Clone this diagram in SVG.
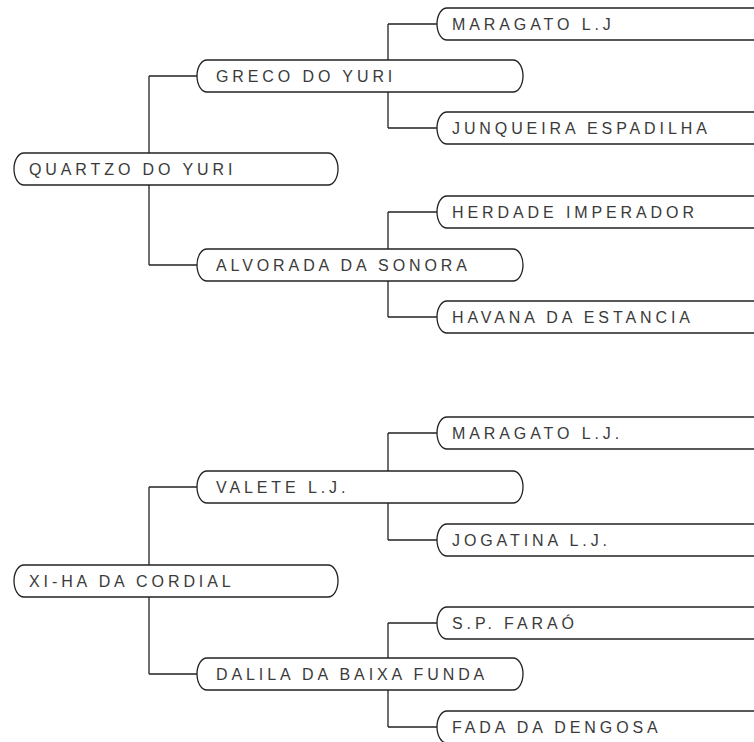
<svg xmlns="http://www.w3.org/2000/svg" width="754" height="742" viewBox="0 0 754 742">
<style>
.c{fill:none;stroke:#222;stroke-width:1.3}
.b{fill:#fff;stroke:#222;stroke-width:1.3}
.t{font-family:"Liberation Sans",Arial,sans-serif;font-size:16px;letter-spacing:3.9px;fill:#3a3a3a}
</style>
<rect width="754" height="742" fill="#fff"/>
<g id="connectors">
<path class="c" d="M149,76V265M149,76H197M149,265H197"/>
<path class="c" d="M388,24V128M388,24H437M388,128H437"/>
<path class="c" d="M388,212V317M388,212H437M388,317H437"/>
<path class="c" d="M149,487V674M149,487H197M149,674H197"/>
<path class="c" d="M388,433V540M388,433H437M388,540H437"/>
<path class="c" d="M388,623V727M388,623H437M388,727H437"/>
</g>
<g id="n1"><rect class="b" x="14" y="153" width="324" height="32" rx="10" ry="16"/><text class="t" x="29" y="175">QUARTZO DO YURI</text></g>
<g id="n2"><rect class="b" x="197" y="60" width="326" height="32" rx="10" ry="16"/><text class="t" x="216" y="82">GRECO DO YURI</text></g>
<g id="n3"><rect class="b" x="437" y="8" width="330" height="32" rx="10" ry="16"/><text class="t" x="452" y="30">MARAGATO L.J</text></g>
<g id="n4"><rect class="b" x="437" y="112" width="330" height="32" rx="10" ry="16"/><text class="t" x="452" y="134">JUNQUEIRA ESPADILHA</text></g>
<g id="n5"><rect class="b" x="197" y="249" width="326" height="32" rx="10" ry="16"/><text class="t" x="216" y="271">ALVORADA DA SONORA</text></g>
<g id="n6"><rect class="b" x="437" y="196" width="330" height="32" rx="10" ry="16"/><text class="t" x="452" y="218">HERDADE IMPERADOR</text></g>
<g id="n7"><rect class="b" x="437" y="301" width="330" height="32" rx="10" ry="16"/><text class="t" x="452" y="323">HAVANA DA ESTANCIA</text></g>
<g id="n8"><rect class="b" x="14" y="565" width="324" height="32" rx="10" ry="16"/><text class="t" x="29" y="587">XI-HA DA CORDIAL</text></g>
<g id="n9"><rect class="b" x="197" y="471" width="326" height="32" rx="10" ry="16"/><text class="t" x="216" y="493">VALETE L.J.</text></g>
<g id="n10"><rect class="b" x="437" y="417" width="330" height="32" rx="10" ry="16"/><text class="t" x="452" y="439">MARAGATO L.J.</text></g>
<g id="n11"><rect class="b" x="437" y="524" width="330" height="32" rx="10" ry="16"/><text class="t" x="452" y="546">JOGATINA L.J.</text></g>
<g id="n12"><rect class="b" x="197" y="658" width="326" height="32" rx="10" ry="16"/><text class="t" x="216" y="680">DALILA DA BAIXA FUNDA</text></g>
<g id="n13"><rect class="b" x="437" y="607" width="330" height="32" rx="10" ry="16"/><text class="t" x="452" y="629">S.P. FARAÓ</text></g>
<g id="n14"><rect class="b" x="437" y="711" width="330" height="32" rx="10" ry="16"/><text class="t" x="452" y="733">FADA DA DENGOSA</text></g>
</svg>
